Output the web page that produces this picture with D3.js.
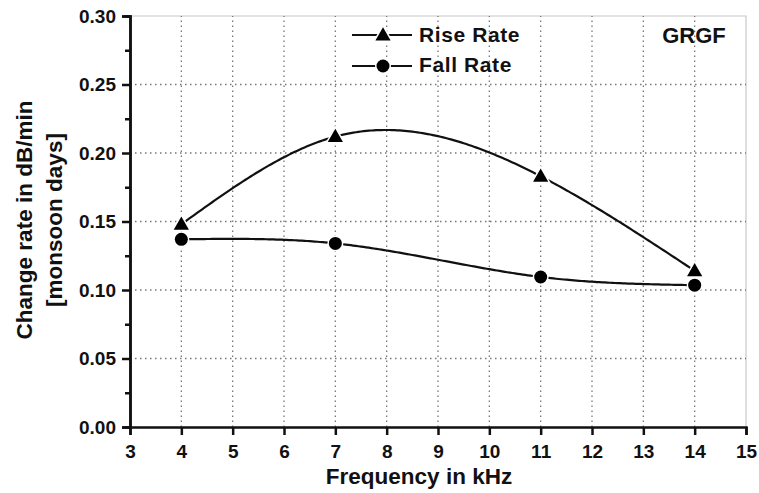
<!DOCTYPE html>
<html><head><meta charset="utf-8">
<script src="https://cdn.jsdelivr.net/npm/d3@7"></script>
<style>body{margin:0;background:#fff}svg{display:block}text{font-family:"Liberation Sans",Arial,sans-serif;font-weight:bold;fill:#111}</style>
</head><body>
<script>
const frequencies = [4, 7, 11, 14];
const riseRate = [0.148, 0.212, 0.183, 0.114];
const fallRate = [0.137, 0.134, 0.1095, 0.1035];
const xTicks = [3,4,5,6,7,8,9,10,11,12,13,14,15];
const yTicks = [0, 0.05, 0.10, 0.15, 0.20, 0.25, 0.30];
const seriesNames = ["Rise Rate", "Fall Rate"];

const W = 759, H = 493;
const m = {l:130, r:13, t:16, b:66};
const svg = d3.select("body").append("svg").attr("width", W).attr("height", H);
const x = d3.scaleLinear().domain([3,15]).range([m.l, W - m.r]);
const y = d3.scaleLinear().domain([0,0.30]).range([H - m.b, m.t]);
const FONT = '"Liberation Sans",Arial,sans-serif';

// frame top/right
svg.append("path").attr("d", `M${x(3)},${y(0.3)}H${x(15)}V${y(0)}`).attr("fill","none").attr("stroke","#c8c8c8").attr("stroke-width",1.2);

// grid
const g = svg.append("g");
g.selectAll(".vg").data(xTicks.slice(1,-1)).join("line")
  .attr("x1", d=>x(d)).attr("x2", d=>x(d)).attr("y1", y(0)).attr("y2", y(0.3))
  .attr("stroke","#777").attr("stroke-width",1.3).attr("stroke-dasharray","1.5,3.5");
g.selectAll(".hg").data(yTicks.slice(1,-1)).join("line")
  .attr("y1", d=>y(d)).attr("y2", d=>y(d)).attr("x1", x(3)).attr("x2", x(15))
  .attr("stroke","#777").attr("stroke-width",1.3).attr("stroke-dasharray","1.5,3.5");

// axes
const xAxis = svg.append("g").attr("transform", `translate(0,${y(0)})`)
  .call(d3.axisBottom(x).tickValues(xTicks).tickFormat(d3.format("d")).tickSize(8).tickPadding(10));
const yMinor = svg.append("g").attr("transform", `translate(${x(3)},0)`)
  .call(d3.axisLeft(y).tickValues(d3.range(0.025, 0.3, 0.05)).tickFormat("").tickSize(5));
const yAxis = svg.append("g").attr("transform", `translate(${x(3)},0)`)
  .call(d3.axisLeft(y).tickValues(yTicks).tickFormat(d3.format(".2f")).tickSize(8).tickPadding(6));
[xAxis, yAxis, yMinor].forEach(a => {
  a.select(".domain").attr("stroke","#111").attr("stroke-width",2.5);
  a.selectAll(".tick line").attr("stroke","#111").attr("stroke-width",2.5);
  a.selectAll("text").attr("font-size",19).attr("font-family",FONT).attr("font-weight","bold").attr("fill","#111");
});

// natural cubic spline y(x) through the data points
function naturalSpline(xs, ys) {
  const n = xs.length, h = [], M = new Array(n).fill(0);
  for (let i = 0; i < n - 1; i++) h.push(xs[i+1] - xs[i]);
  const a = [], b = [], c = [], r = [];
  for (let i = 1; i < n - 1; i++) {
    a.push(h[i-1]); b.push(2*(h[i-1]+h[i])); c.push(h[i]);
    r.push(6*((ys[i+1]-ys[i])/h[i] - (ys[i]-ys[i-1])/h[i-1]));
  }
  const k = r.length;
  for (let i = 1; i < k; i++) { const w = a[i]/b[i-1]; b[i] -= w*c[i-1]; r[i] -= w*r[i-1]; }
  const sol = new Array(k);
  for (let i = k - 1; i >= 0; i--) sol[i] = (r[i] - (i < k-1 ? c[i]*sol[i+1] : 0)) / b[i];
  for (let i = 0; i < k; i++) M[i+1] = sol[i];
  return function(t) {
    let i = 0; while (i < n - 2 && t > xs[i+1]) i++;
    const hi = h[i], A = (xs[i+1]-t)/hi, B = (t-xs[i])/hi;
    return A*ys[i] + B*ys[i+1] + ((A*A*A - A)*M[i] + (B*B*B - B)*M[i+1]) * hi*hi/6;
  };
}
function curvePath(ys) {
  const f = naturalSpline(frequencies, ys);
  const x0 = frequencies[0], x1 = frequencies[frequencies.length-1];
  const pts = d3.range(0, 201).map(j => { const t = x0 + (x1-x0)*j/200; return [t, f(t)]; });
  return d3.line().x(d=>x(d[0])).y(d=>y(d[1]))(pts);
}
[riseRate, fallRate].forEach(ys => {
  svg.append("path").attr("d", curvePath(ys)).attr("fill","none").attr("stroke","#111").attr("stroke-width",2.2);
});

const riseData = frequencies.map((f,i)=>[f, riseRate[i]]);
const fallData = frequencies.map((f,i)=>[f, fallRate[i]]);
const tri = d3.symbol().type(d3.symbolTriangle).size(100);
function triangle(sel){ sel.attr("d", tri).attr("fill","#000").attr("stroke","#fff").attr("stroke-width",3).attr("paint-order","stroke"); }
function circle(sel){ sel.attr("r",6.5).attr("fill","#000").attr("stroke","#fff").attr("stroke-width",3).attr("paint-order","stroke"); }

svg.selectAll(".rm").data(riseData).join("path")
  .attr("transform", d=>`translate(${x(d[0])},${y(d[1])+1})`).call(triangle);
svg.selectAll(".fm").data(fallData).join("circle")
  .attr("cx", d=>x(d[0])).attr("cy", d=>y(d[1])).call(circle);

// legend
const leg = svg.append("g");
[[35, "tri", 42], [66, "circ", 72]].forEach(([ly, type, by], i) => {
  leg.append("line").attr("x1",352).attr("x2",412).attr("y1",ly).attr("y2",ly).attr("stroke","#111").attr("stroke-width",2.2);
  if (type === "tri") leg.append("path").attr("transform",`translate(383,${ly+1})`).call(triangle);
  else leg.append("circle").attr("cx",383).attr("cy",ly).call(circle);
  leg.append("text").attr("x",419).attr("y",by).attr("font-size",21).attr("letter-spacing",0.6).text(seriesNames[i]);
});

svg.append("text").attr("x",694).attr("y",43).attr("text-anchor","middle").attr("font-size",22).text("GRGF");

svg.append("text").attr("x",419).attr("y",484).attr("text-anchor","middle").attr("font-size",22.5).text("Frequency in kHz");
const yt = svg.append("text").attr("transform","translate(0,220) rotate(-90)").attr("text-anchor","middle").attr("font-size",22.5);
yt.append("tspan").attr("x",0).attr("y",32).text("Change rate in dB/min");
yt.append("tspan").attr("x",0).attr("y",62).text("[monsoon days]");
</script>
</body></html>
